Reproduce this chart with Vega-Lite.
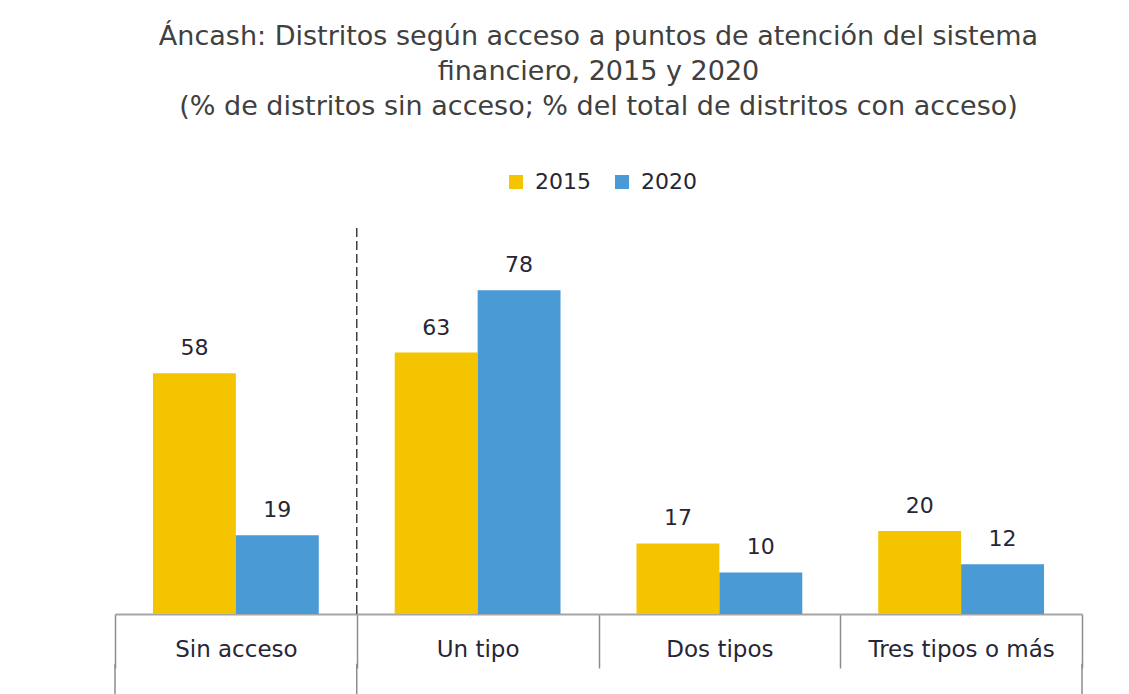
{
  "$schema": "https://vega.github.io/schema/vega-lite/v6.json",
  "width": 967,
  "height": 386,
  "autosize": {"type": "none"},
  "padding": {"left": 115, "top": 228, "right": 47, "bottom": 80},
  "background": "white",
  "title": {
    "text": ["Áncash: Distritos según acceso a puntos de atención del sistema", "financiero, 2015 y 2020", "(% de distritos sin acceso; % del total de distritos con acceso)"],
    "font": "DejaVu Sans",
    "fontSize": 27,
    "fontWeight": "normal",
    "color": "#404040",
    "anchor": "middle",
    "frame": "group",
    "lineHeight": 35,
    "offset": 50
  },
  "datasets": {
    "bars": [
      {"cat": "Sin acceso", "year": "2015", "value": 58},
      {"cat": "Sin acceso", "year": "2020", "value": 19},
      {"cat": "Un tipo", "year": "2015", "value": 63},
      {"cat": "Un tipo", "year": "2020", "value": 78},
      {"cat": "Dos tipos", "year": "2015", "value": 17},
      {"cat": "Dos tipos", "year": "2020", "value": 10},
      {"cat": "Tres tipos o más", "year": "2015", "value": 20},
      {"cat": "Tres tipos o más", "year": "2020", "value": 12}
    ]
  },
  "layer": [
    {
      "data": {"name": "bars"},
      "mark": {"type": "bar"},
      "encoding": {
        "x": {"field": "cat", "type": "nominal", "title": null,
              "scale": {"domain": ["Sin acceso", "Un tipo", "Dos tipos", "Tres tipos o más"], "paddingInner": 0, "paddingOuter": 0}},
        "xOffset": {"field": "year", "type": "nominal", "scale": {"paddingInner": 0, "paddingOuter": 0.458}},
        "y": {"field": "value", "type": "quantitative", "axis": null, "scale": {"domain": [0, 93], "nice": false}},
        "color": {"field": "year", "type": "nominal", "title": null,
                  "scale": {"domain": ["2015", "2020"], "range": ["#F5C400", "#4A9AD6"]},
                  "legend": {"orient": "none", "direction": "horizontal", "legendX": 390, "legendY": -57,
                             "symbolType": "square", "symbolSize": 196, "symbolStrokeWidth": 0,
                             "labelFont": "DejaVu Sans", "labelFontSize": 22, "labelColor": "#262636",
                             "labelOffset": 8, "columnPadding": 20, "padding": 0}}
      }
    },
    {
      "data": {"name": "bars"},
      "mark": {"type": "text", "font": "DejaVu Sans", "fontSize": 22, "color": "#262636", "baseline": "middle", "dy": -25},
      "encoding": {
        "x": {"field": "cat", "type": "nominal", "title": null},
        "xOffset": {"field": "year", "type": "nominal"},
        "y": {"field": "value", "type": "quantitative", "axis": null},
        "text": {"field": "value", "type": "quantitative"}
      }
    },
    {
      "data": {"values": [{"cat": "Un tipo"}]},
      "mark": {"type": "rule", "strokeDash": [9, 4], "color": "#404040", "strokeWidth": 1.5},
      "encoding": {
        "x": {"field": "cat", "type": "nominal", "title": null, "bandPosition": 0},
        "y": {"datum": 0, "type": "quantitative", "axis": null},
        "y2": {"datum": 93}
      }
    },
    {
      "data": {"values": [{"cat": "Sin acceso"}, {"cat": "Un tipo"}]},
      "mark": {"type": "rule", "color": "#8c8c8c", "strokeWidth": 1.5, "clip": false},
      "encoding": {
        "x": {"field": "cat", "type": "nominal", "title": null, "bandPosition": 0},
        "y": {"datum": -12, "type": "quantitative", "axis": null},
        "y2": {"datum": -22}
      }
    },
    {
      "data": {"values": [{"cat": "Tres tipos o más"}]},
      "mark": {"type": "rule", "color": "#8c8c8c", "strokeWidth": 1.5, "clip": false},
      "encoding": {
        "x": {"field": "cat", "type": "nominal", "title": null, "bandPosition": 1},
        "y": {"datum": -12, "type": "quantitative", "axis": null},
        "y2": {"datum": -22}
      }
    }
  ],
  "config": {
    "view": {"stroke": null},
    "axisX": {
      "tickBand": "extent",
      "tickSize": 54,
      "tickColor": "#8c8c8c",
      "tickWidth": 1.5,
      "domainColor": "#a6a6a6",
      "domainWidth": 2,
      "labelFont": "DejaVu Sans",
      "labelFontSize": 23,
      "labelColor": "#262636",
      "labelAngle": 0,
      "labelBaseline": "middle",
      "labelPadding": -19,
      "labelLimit": 400,
      "labelOverlap": false
    }
  }
}
